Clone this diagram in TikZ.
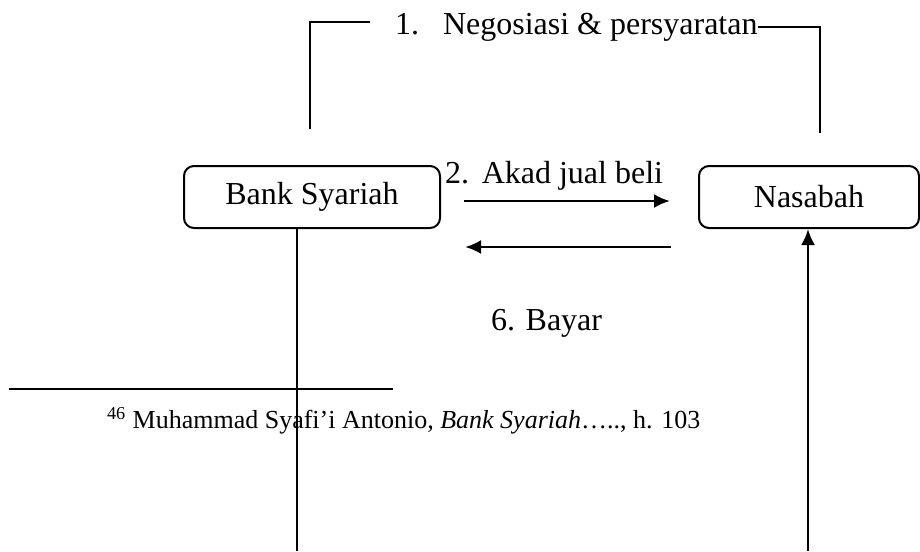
\documentclass[tikz,border=0pt]{standalone}
\usepackage{fontspec}
\setmainfont{Liberation Serif}
\usepackage{tikz}
\usetikzlibrary{arrows.meta,positioning}

\begin{document}
\begin{tikzpicture}[x=0.5pt, y=-0.5pt, line width=1pt, node distance = 1cm,
                    auto, party/.style = {draw, rounded corners=5pt, inner sep=0pt,
                    minimum height=31pt, font=\fontsize{16}{19}\selectfont},
                    lbl/.style = {anchor=base west, inner sep=0pt, font=\fontsize{16}{19}\selectfont},
                    flow/.style = {-{Latex[length=8pt,width=7pt]}, line width=1.3pt}]
\useasboundingbox (0,0) rectangle (920,551);
\begin{scope}[node distance=0mm and 128.5pt]
    \node[party, minimum width=128pt] (bank) at (312,197) {Bank Syariah};
\node[party, minimum width=110pt, right= of bank] (nasabah) {Nasabah};
\node[lbl] (nego) at (394,35) {1.\hspace{0.75em}Negosiasi \& persyaratan};
\node[lbl] (akad) at (444,183) {2.\hspace{0.4em}Akad jual beli};
\node[lbl] (bayar) at (490,330) {6. Bayar};
\node[lbl, font=\fontsize{13}{15}\selectfont] (note) at (106,428) {\textsuperscript{46} Muhammad Syafi’i Antonio, \textit{Bank Syariah}….., h. 103};
\coordinate (negoL) at (310,129);
\coordinate (negoLend) at (370,22);
\coordinate (negoR) at (820,133);
\coordinate (negoRend) at (758,27);
\coordinate (bankBot) at (297,551);
\coordinate (nasBot) at (808,551);
\coordinate (ruleL) at (9,389);
\coordinate (ruleR) at (393,389);
    \draw (negoL) |- (negoLend);
\draw (negoR) |- (negoRend);
\draw[flow] ([xshift=11.5pt,yshift=-2pt]bank.east) -- ([xshift=-14pt,yshift=-2pt]nasabah.west);
\draw[flow] ([xshift=-13.5pt,yshift=-25pt]nasabah.west) -- ([xshift=12pt,yshift=-25pt]bank.east);
\draw (bankBot |- bank.south) -- (bankBot);
\draw[flow] (nasBot) -- (nasBot |- nasabah.south);
\draw (ruleL) -- (ruleR);\end{scope}  \end{tikzpicture}
\end{document}
